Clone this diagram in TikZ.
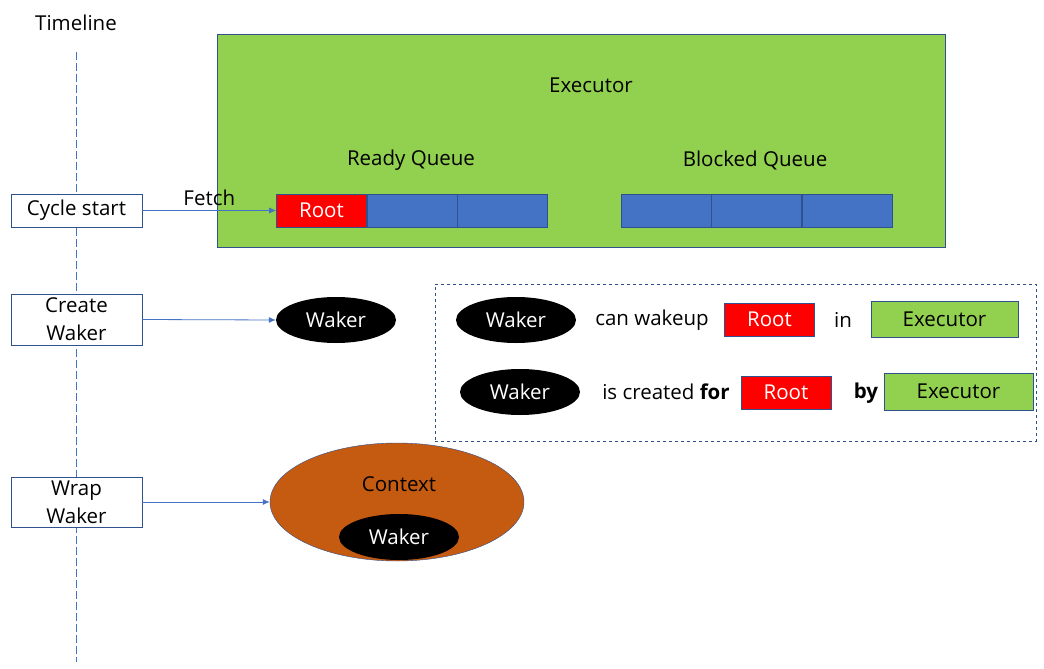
\documentclass[tikz,border=0pt]{standalone}
\usepackage{fontspec}
\setmainfont{Open Sans}
\usetikzlibrary{positioning,shapes.geometric,arrows.meta}
\definecolor{exgreen}{HTML}{92D050}
\definecolor{rootred}{HTML}{FF0000}
\definecolor{qblue}{HTML}{4472C4}
\definecolor{edgeblue}{HTML}{2F528F}
\definecolor{ctxbrown}{HTML}{C55A11}
\begin{document}
\begin{tikzpicture}[x=1pt, y=-1pt, font=\fontsize{20.5}{28}\selectfont,
	stepbox/.style={draw=edgeblue, fill=white, minimum width=131pt, align=center, inner sep=0pt, line width=0.8pt},
	cell/.style={draw=edgeblue, fill=qblue, minimum width=90pt, minimum height=33pt, inner sep=0pt, line width=0.6pt},
	rootcell/.style={cell, fill=rootred, text=white},
	waker/.style={ellipse, fill=black, text=white, minimum width=120pt, minimum height=46pt, inner sep=0pt},
	exbox/.style={draw=edgeblue, fill=exgreen, inner sep=0pt, line width=0.8pt},
	link/.style={-{Latex[length=7pt,width=6pt]}, draw=qblue, line width=0.8pt}]
	
	\useasboundingbox (0,0) rectangle (1044,669);
	
	% timeline
	\node (tl) at (76,23) {Timeline};
	\coordinate (tltop) at (76,52);
	\coordinate (tlbot) at (76,662);
	\draw[qblue, line width=0.8pt, dash pattern=on 8pt off 3pt] (tltop) -- (tlbot);
	
	% executor with its queues
	\node[exbox, minimum width=728pt, minimum height=213pt] (exec) at (581,140.5) {};
	\node (exlabel) at (591,85) {Executor};
	\node (ready) at (411,160) {Ready Queue};
	\node (blocked) at (755,160) {Blocked Queue};
	\node[rootcell] (root) at (321.5,210.5) {Root};
	\node[cell] (r2) [right=0pt of root] {};
	\node[cell] (r3) [right=0pt of r2] {};
	\node[cell] (b1) at (666,210.5) {};
	\node[cell] (b2) [right=0pt of b1] {};
	\node[cell] (b3) [right=0pt of b2] {};
	
	% steps
	\node[stepbox, minimum height=33pt] (cycle) at (76.5,210.5) {Cycle start};
	\node[stepbox, minimum height=51pt] (create) at (76.5,319.5) {Create\\Waker};
	\node[stepbox, minimum height=50pt] (wrap) at (76.5,502) {Wrap\\Waker};
	
	\node[waker] (waker1) at (336,320) {Waker};
	
	\node[ellipse, draw=edgeblue, fill=ctxbrown, minimum width=254pt, minimum height=118pt, inner sep=0pt] (ctx) at (397,502) {};
	\node (ctxlabel) at (399,484) {Context};
	\node[waker] (waker2) at (399,537) {Waker};
	
	\draw[link] (cycle.east) -- (root.west) node[midway, above=1pt] {Fetch};
	\draw[link] (create.east) -- (waker1.west);
	\draw[link] (wrap.east) -- (ctx.west);
	
	% legend
	\node[draw=edgeblue, dashed, line width=0.8pt, minimum width=601pt, minimum height=157pt] (legend) at (735.5,362.5) {};
	\node[waker] (lw1) at (516,320) {Waker};
	\node (canwake) at (652,320) {can wakeup};
	\node[rootcell] (lroot1) at (769.5,319.5) {Root};
	\node (in) at (843,320) {in};
	\node[exbox, minimum width=147pt, minimum height=36pt] (lexec1) at (944.5,319) {Executor};
	\node[waker] (lw2) at (520,392) {Waker};
	\node (created) at (666,392) {is created \textbf{for}};
	\node[rootcell] (lroot2) at (786,392.5) {Root};
	\node (by) at (866,393) {\textbf{by}};
	\node[exbox, minimum width=149pt, minimum height=37pt] (lexec2) at (958.5,391.5) {Executor};
\end{tikzpicture}
\end{document}
